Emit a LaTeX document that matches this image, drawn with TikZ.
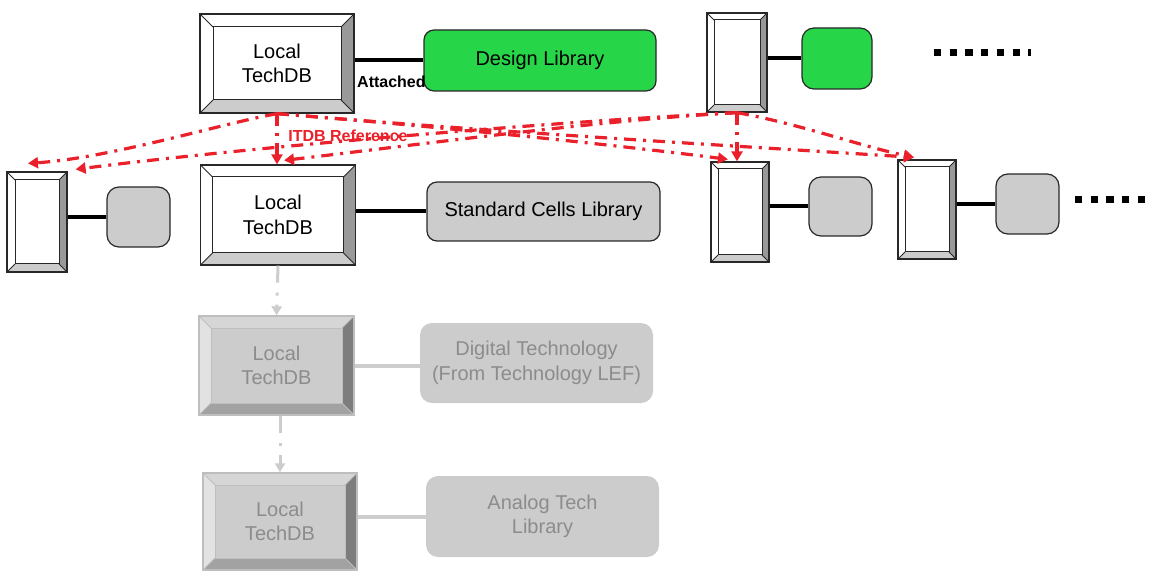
\documentclass[tikz,border=0pt]{standalone}
\usepackage{fontspec}
\setmainfont{Liberation Sans}
\usetikzlibrary{arrows.meta,calc}
\definecolor{redA}{RGB}{234,32,42}
\definecolor{greenL}{RGB}{38,213,72}
\definecolor{grayL}{RGB}{204,204,204}
\definecolor{nRight}{RGB}{153,153,153}
\definecolor{nBot}{RGB}{204,204,204}
\definecolor{nLine}{RGB}{40,40,40}
\definecolor{fTop}{RGB}{214,214,214}
\definecolor{fLeft}{RGB}{226,226,226}
\definecolor{fRight}{RGB}{125,125,125}
\definecolor{fBot}{RGB}{162,162,162}
\definecolor{fIn}{RGB}{204,204,204}
\definecolor{fLine}{RGB}{190,190,190}
\definecolor{fadeTxt}{RGB}{140,140,140}
\definecolor{fadeConn}{RGB}{205,205,205}
\newcommand\bigfont{\fontsize{20}{24.5}\selectfont}
\newcommand\lblfont{\bfseries\fontsize{16}{18}\selectfont}
\tikzset{
  x=1pt, y=1pt,
  bevbox/.style n args={7}{draw=#7, line width=1.3pt, inner sep=0pt, align=center,
    path picture={
      \path (path picture bounding box.north west) coordinate (qNW)
            (path picture bounding box.north east) coordinate (qNE)
            (path picture bounding box.south west) coordinate (qSW)
            (path picture bounding box.south east) coordinate (qSE);
      \path ([shift={(#1,-#1)}]qNW) coordinate (iNW)
            ([shift={(-#1,-#1)}]qNE) coordinate (iNE)
            ([shift={(#1,#1)}]qSW) coordinate (iSW)
            ([shift={(-#1,#1)}]qSE) coordinate (iSE);
      \fill[#2] (qNW)--(qNE)--(iNE)--(iNW)--cycle;
      \fill[#3] (qNW)--(iNW)--(iSW)--(qSW)--cycle;
      \fill[#4] (qNE)--(qSE)--(iSE)--(iNE)--cycle;
      \fill[#5] (qSW)--(iSW)--(iSE)--(qSE)--cycle;
      \filldraw[fill=#6, draw=#7, line width=1pt] (iNW) rectangle (iSE);
      \draw[#7, line width=1pt] (qNW)--(iNW) (qNE)--(iNE) (qSW)--(iSW) (qSE)--(iSE);
    }},
  normbox/.style={bevbox={#1}{white}{white}{nRight}{nBot}{white}{nLine}, font=\bigfont},
  fadebox/.style={bevbox={#1}{fTop}{fLeft}{fRight}{fBot}{fIn}{fLine}, font=\bigfont, text=fadeTxt},
  libbox/.style={draw=nLine, line width=1.2pt, rounded corners=10pt, inner sep=0pt, align=center, font=\bigfont},
  greenbox/.style={libbox, fill=greenL},
  graybox/.style={libbox, fill=grayL},
  fadelib/.style={rounded corners=12pt, inner sep=0pt, align=center, font=\bigfont, fill=grayL, text=fadeTxt},
  conn/.style={line width=4pt, black},
  fconn/.style={line width=4pt, fadeConn},
  refarrow/.style={draw=redA, line width=3.2pt, dash pattern=on 12pt off 7pt on 3pt off 7pt,
    -{Triangle[length=10pt,width=11pt]}},
  fadearrow/.style={draw=fadeConn, line width=3pt, dash pattern=on 17pt off 10pt on 3pt off 9pt,
    -{Triangle[length=9pt,width=10pt]}},
  dotsline/.style={line width=7pt, black, dash pattern=on 7.3pt off 8.4pt},
}
\begin{document}
\begin{tikzpicture}
\fill[white] (0,0) rectangle (1152,-572);
\useasboundingbox (0,0) rectangle (1152,-572);

% main column
\node[normbox=13, minimum width=154pt, minimum height=99pt] (t1) at (277,-63.5) {Local\\TechDB};
\node[greenbox, minimum width=232pt, minimum height=61pt] (dl) at (540,-60.5) {Design Library};
\node[normbox=12, minimum width=155pt, minimum height=100pt] (t2) at (278,-215) {Local\\TechDB};
\node[graybox, minimum width=233pt, minimum height=59pt] (sc) at (543.5,-211.5) {Standard Cells Library};
\node[fadebox=12, minimum width=155pt, minimum height=99pt] (t3) at (276.5,-365.5) {Local\\TechDB};
\node[fadelib, minimum width=233pt, minimum height=80pt] (dt) at (536.5,-363) {Digital Technology\\(From Technology LEF)};
\node[fadebox=12, minimum width=154pt, minimum height=97pt] (t4) at (280,-521.5) {Local\\TechDB};
\node[fadelib, minimum width=233pt, minimum height=81pt] (at) at (542.5,-516.5) {Analog Tech\\Library};

% small pairs
\node[normbox=8, minimum width=60pt, minimum height=100pt] (l1) at (37,-222) {};
\node[graybox, rounded corners=12pt, minimum width=63pt, minimum height=60pt] (lg) at (138.5,-217) {};
\node[normbox=7, minimum width=60pt, minimum height=99pt] (n1) at (737,-62.5) {};
\node[greenbox, rounded corners=12pt, minimum width=70pt, minimum height=61pt] (ng) at (837,-58.5) {};
\node[normbox=7, minimum width=58pt, minimum height=100pt] (n2) at (740,-212) {};
\node[graybox, rounded corners=12pt, minimum width=63pt, minimum height=59pt] (n2g) at (840.5,-206.5) {};
\node[normbox=7, minimum width=58pt, minimum height=99pt] (r1) at (927,-209.5) {};
\node[graybox, rounded corners=12pt, minimum width=63pt, minimum height=60pt] (r1g) at (1027.5,-204) {};

% attachment connectors
\draw[conn] (dl.west -| t1.east) -- (dl.west);
\draw[conn] (sc.west -| t2.east) -- (sc.west);
\draw[fconn] (t3.east) -- (t3.east -| dt.west);
\draw[fconn] (at.west -| t4.east) -- (at.west);
\draw[conn] (lg.west -| l1.east) -- (lg.west);
\draw[conn] (ng.west -| n1.east) -- (ng.west);
\draw[conn] (n2g.west -| n2.east) -- (n2g.west);
\draw[conn] (r1g.west -| r1.east) -- (r1g.west);

\node[font=\lblfont, anchor=west, inner sep=0pt] (att) at (357,-82) {Attached};

% continuation marks
\coordinate (dA1) at (934,-53);
\coordinate (dA2) at (1031,-53);
\coordinate (dB1) at (1075,-200);
\coordinate (dB2) at (1152,-200);
\draw[dotsline] (dA1) -- (dA2);
\draw[dotsline] (dB1) -- (dB2);

% faded references
\draw[fadearrow] (t2.south) -- (t3.north);
\draw[fadearrow] (t4.north |- t3.south) -- (t4.north);

% ITDB references
\coordinate (sA) at (t1.south);
\coordinate (sB) at (n1.south);
\coordinate (eL1) at ([shift={(-9,8)}]l1.north);
\coordinate (eL2) at ([shift={(8,2)}]l1.north east);
\coordinate (eM2) at ([shift={(6,4)}]t2.north);
\coordinate (eN) at ([shift={(-12,2)}]n2.north);
\coordinate (eR) at ([shift={(-13,2)}]r1.north);

\draw[refarrow] (sA) .. controls (220,-124) and (110,-158) .. (eL1);
\draw[refarrow] (sA) -- (sA |- t2.north);
\draw[refarrow] (sA) .. controls (420,-125) and (600,-143) .. (eN);
\draw[refarrow] (sA) .. controls (480,-131) and (720,-145) .. (eR);
\draw[refarrow] (sB) .. controls (550,-122) and (250,-147) .. (eL2);
\draw[refarrow] (sB) .. controls (600,-120) and (400,-147) .. (eM2);
\draw[refarrow] (sB) -- (sB |- n2.north);
\draw[refarrow] (sB) .. controls (800,-124) and (860,-146) .. (eR);

\node[font=\lblfont, text=redA, inner sep=0pt] (itdb) at (348,-136) {ITDB Reference};
\end{tikzpicture}
\end{document}
